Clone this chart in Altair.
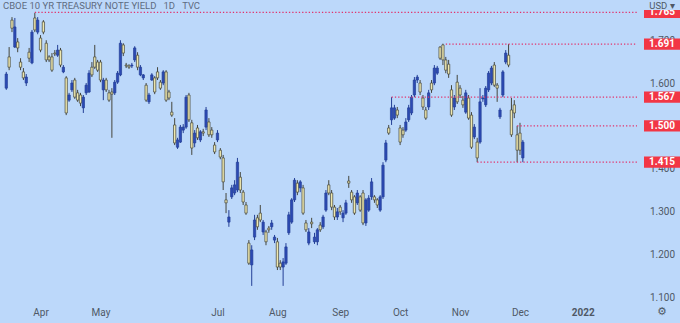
import altair as alt
import pandas as pd

# ---- data (CBOE 10Y yield, daily) ----
open_ = [1.588,1.661,1.747,1.684,1.696,1.649,1.626,1.600,1.672,1.647,1.752,1.719,1.705,1.743,1.693,1.661,1.661,1.670,1.665,1.677,
         1.626,1.612,1.560,1.584,1.607,1.577,1.572,1.542,1.577,1.579,1.637,1.661,1.649,1.649,1.584,1.607,1.577,1.579,1.577,1.602,
         1.619,1.689,1.642,1.640,1.640,1.654,1.665,1.619,1.612,1.595,1.556,1.607,1.612,1.626,1.602,1.600,1.626,1.579,1.532,1.502,
         1.450,1.462,1.490,1.497,1.572,1.507,1.460,1.495,1.467,1.486,1.497,1.509,1.490,1.455,1.467,1.443,1.425,1.327,1.275,1.334,
         1.343,1.350,1.380,1.345,1.315,1.226,1.175,1.240,1.285,1.296,1.252,1.252,1.261,1.264,1.233,1.229,1.179,1.170,1.179,1.250,
         1.275,1.327,1.366,1.355,1.355,1.273,1.226,1.275,1.229,1.229,1.268,1.264,1.303,1.362,1.343,1.310,1.287,1.310,1.285,1.296,
         1.371,1.345,1.334,1.320,1.334,1.343,1.273,1.303,1.334,1.334,1.327,1.303,1.334,1.420,1.495,1.514,1.518,1.537,1.495,1.490,
         1.490,1.514,1.530,1.572,1.607,1.600,1.565,1.537,1.544,1.600,1.600,1.623,1.684,1.689,1.654,1.644,1.584,1.544,1.602,1.588,
         1.560,1.532,1.565,1.525,1.474,1.462,1.462,1.563,1.549,1.584,1.600,1.642,1.595,1.521,1.572,1.649,1.665,1.537,1.549,1.479,
         1.483,1.425]
high = [1.626,1.684,1.754,1.752,1.705,1.658,1.635,1.621,1.682,1.724,1.764,1.754,1.712,1.747,1.700,1.665,1.670,1.677,1.689,1.682,
        1.642,1.616,1.577,1.607,1.612,1.584,1.577,1.572,1.600,1.630,1.649,1.689,1.654,1.654,1.612,1.612,1.584,1.588,1.607,1.628,
        1.700,1.693,1.647,1.644,1.647,1.686,1.672,1.642,1.621,1.600,1.577,1.623,1.616,1.637,1.607,1.630,1.630,1.584,1.556,1.518,
        1.472,1.502,1.504,1.572,1.577,1.514,1.490,1.502,1.490,1.493,1.544,1.518,1.497,1.462,1.490,1.448,1.432,1.343,1.303,1.362,
        1.373,1.425,1.392,1.350,1.322,1.233,1.221,1.292,1.292,1.315,1.280,1.257,1.266,1.280,1.245,1.238,1.186,1.191,1.226,1.299,
        1.331,1.378,1.373,1.373,1.362,1.280,1.261,1.285,1.250,1.261,1.275,1.292,1.350,1.373,1.350,1.315,1.308,1.315,1.303,1.327,
        1.383,1.350,1.338,1.350,1.338,1.350,1.331,1.338,1.378,1.338,1.331,1.338,1.415,1.467,1.502,1.567,1.549,1.544,1.502,1.497,
        1.518,1.549,1.572,1.614,1.619,1.607,1.572,1.544,1.584,1.607,1.642,1.640,1.686,1.692,1.661,1.654,1.595,1.572,1.619,1.595,
        1.570,1.584,1.572,1.532,1.504,1.472,1.588,1.572,1.593,1.628,1.640,1.649,1.600,1.542,1.630,1.677,1.691,1.565,1.560,1.500,
        1.507,1.467]
low = [1.584,1.630,1.719,1.682,1.672,1.630,1.607,1.593,1.649,1.644,1.719,1.714,1.672,1.714,1.649,1.649,1.626,1.663,1.661,1.637,
       1.623,1.525,1.556,1.579,1.563,1.556,1.546,1.530,1.572,1.577,1.614,1.633,1.626,1.602,1.560,1.579,1.556,1.472,1.572,1.598,
       1.616,1.663,1.635,1.633,1.635,1.649,1.630,1.616,1.607,1.556,1.551,1.605,1.574,1.607,1.584,1.595,1.556,1.560,1.521,1.455,
       1.446,1.460,1.483,1.493,1.509,1.432,1.450,1.467,1.462,1.476,1.490,1.474,1.472,1.434,1.462,1.422,1.350,1.296,1.264,1.329,
       1.338,1.345,1.343,1.315,1.292,1.175,1.126,1.233,1.257,1.275,1.245,1.221,1.250,1.257,1.226,1.163,1.163,1.126,1.175,1.245,
       1.271,1.322,1.338,1.345,1.292,1.252,1.221,1.261,1.224,1.221,1.252,1.259,1.299,1.338,1.303,1.280,1.280,1.292,1.275,1.292,
       1.355,1.320,1.292,1.315,1.299,1.268,1.266,1.299,1.327,1.320,1.308,1.299,1.329,1.415,1.479,1.502,1.514,1.518,1.455,1.472,
       1.486,1.509,1.525,1.567,1.600,1.572,1.537,1.514,1.537,1.577,1.595,1.619,1.654,1.642,1.623,1.612,1.521,1.537,1.551,1.565,
       1.542,1.528,1.514,1.446,1.469,1.415,1.458,1.556,1.544,1.579,1.595,1.591,1.556,1.516,1.567,1.644,1.637,1.474,1.518,1.415,
       1.432,1.415]
close = [1.621,1.637,1.728,1.731,1.682,1.637,1.612,1.614,1.658,1.719,1.724,1.747,1.677,1.719,1.654,1.654,1.630,1.668,1.677,1.642,
         1.637,1.530,1.572,1.600,1.567,1.560,1.553,1.567,1.595,1.623,1.619,1.637,1.630,1.607,1.607,1.584,1.560,1.574,1.602,1.623,
         1.693,1.670,1.640,1.637,1.642,1.682,1.637,1.637,1.619,1.560,1.572,1.619,1.579,1.612,1.588,1.626,1.560,1.565,1.525,1.460,
         1.467,1.497,1.497,1.567,1.514,1.448,1.483,1.472,1.486,1.483,1.537,1.479,1.479,1.439,1.483,1.427,1.369,1.320,1.287,1.355,
         1.362,1.415,1.350,1.322,1.296,1.179,1.210,1.280,1.264,1.280,1.275,1.229,1.257,1.273,1.240,1.170,1.170,1.182,1.217,1.292,
         1.327,1.373,1.345,1.369,1.296,1.257,1.252,1.271,1.240,1.257,1.257,1.287,1.343,1.343,1.310,1.287,1.299,1.299,1.296,1.320,
         1.366,1.327,1.296,1.343,1.303,1.273,1.327,1.331,1.369,1.327,1.315,1.334,1.408,1.460,1.483,1.542,1.542,1.525,1.462,1.479,
         1.509,1.542,1.567,1.607,1.614,1.579,1.544,1.518,1.577,1.584,1.635,1.635,1.658,1.654,1.630,1.621,1.525,1.565,1.556,1.572,
         1.549,1.577,1.518,1.450,1.497,1.425,1.556,1.565,1.588,1.623,1.635,1.595,1.588,1.537,1.626,1.670,1.642,1.479,1.530,1.443,
         1.443,1.462]

month_idx = [12, 33, 74, 95, 117, 138, 159, 180, 202]
month_lbl = ["Apr", "May", "Jul", "Aug", "Sep", "Oct", "Nov", "Dec", "2022"]
y_ticks = [1.1, 1.2, 1.3, 1.4, 1.5, 1.6, 1.7]
level_vals = [1.765, 1.691, 1.567, 1.500, 1.415]
level_start = [10, 154, 135, 179, 165]
level_text = ["1.765", "1.691", "1.567", "1.500", "1.415"]
title_text = "CBOE 10 YR TREASURY NOTE YIELD\u00a0\u00a0\u00a01D\u00a0\u00a0\u00a0TVC"

X_MIN, X_MAX = -0.45, 221.0
Y_MIN, Y_MAX = 1.086, 1.794

BG = "#BCD8FA"
UP = "#2C4AB4"
DOWN = "#EFE8AE"
RED = "#F23645"
DOT = "#E2336C"
TXT = "#4F5866"
FONT = "Roboto"

df = pd.DataFrame({"i": list(range(len(open_))), "o": open_, "h": high, "l": low, "c": close})
df["dir"] = ["up" if c >= o else "down" for o, c in zip(df["o"], df["c"])]

xs = alt.Scale(domain=[X_MIN, X_MAX], nice=False, zero=False)
ys = alt.Scale(domain=[Y_MIN, Y_MAX], nice=False, zero=False)

label_expr = " : ".join(f"datum.value == {i} ? '{l}'" for i, l in zip(month_idx, month_lbl)) + " : ''"

x_axis = alt.Axis(values=month_idx, labelExpr=label_expr, ticks=False, domain=False, grid=False,
                  labelPadding=4, labelFontSize=10, labelColor=TXT, labelFont=FONT, labelFlush=False,
                  labelOverlap=False, title=None,
                  labelFontWeight={"condition": {"test": f"datum.value == {month_idx[-1]}", "value": "bold"},
                                   "value": "normal"})
y_axis = alt.Axis(values=y_ticks, format=".3f", orient="right", ticks=False, tickSize=0, domain=False,
                  grid=False, labelPadding=20, labelAlign="center", labelFontSize=10, labelColor=TXT,
                  labelFont=FONT, title=None)

dir_color = alt.Scale(domain=["up", "down"], range=[UP, DOWN])
dir_stroke = alt.Scale(domain=["up", "down"], range=["#243f96", "#45463c"])

base = alt.Chart(df)

wicks = base.mark_rule(strokeWidth=1).encode(
    x=alt.X("i:Q", scale=xs, axis=x_axis),
    y=alt.Y("l:Q", scale=ys, axis=y_axis),
    y2="h:Q",
    color=alt.Color("dir:N", scale=dir_stroke, legend=None),
)

bodies = base.mark_bar(size=2.3, strokeWidth=0.7).encode(
    x=alt.X("i:Q", scale=xs, axis=x_axis),
    y=alt.Y("o:Q", scale=ys, axis=y_axis),
    y2="c:Q",
    fill=alt.Fill("dir:N", scale=dir_color, legend=None),
    stroke=alt.Stroke("dir:N", scale=dir_stroke, legend=None),
)

lv = pd.DataFrame({"level": level_vals, "start": level_start, "end": [X_MAX] * len(level_vals),
                   "txt": level_text})

lines = alt.Chart(lv).mark_rule(color=DOT, strokeWidth=1.3, strokeDash=[1.3, 2.0]).encode(
    x=alt.X("start:Q", scale=xs, axis=x_axis),
    x2="end:Q",
    y=alt.Y("level:Q", scale=ys, axis=y_axis),
)

box_shape = "M-1,-0.31L1,-0.31L1,0.31L-1,0.31Z"
boxes = alt.Chart(lv).mark_point(shape=box_shape, filled=True, size=36 * 36, color=RED, opacity=1).encode(
    x=alt.value(662),
    y=alt.Y("level:Q", scale=ys, axis=y_axis),
)
box_txt = alt.Chart(lv).mark_text(color="white", fontSize=10, fontWeight="bold", font=FONT,
                                  align="center", baseline="middle").encode(
    x=alt.value(662),
    y=alt.Y("level:Q", scale=ys, axis=y_axis),
    text="txt:N",
)

one = pd.DataFrame({"t": [title_text], "u": ["USD \u25be"], "g": ["\u2699"]})
title = alt.Chart(one).mark_text(align="left", baseline="middle", fontSize=9.5, color="#5E6B80",
                                 font=FONT).encode(x=alt.value(3), y=alt.value(6), text="t:N")
usd_cover = alt.Chart(one).mark_point(shape="M-1,-1L1,-1L1,1L-1,1Z", filled=True, size=38 * 38,
                                      color=BG, opacity=1).encode(x=alt.value(662), y=alt.value(-9))
usd = alt.Chart(one).mark_text(align="center", baseline="middle", fontSize=9.5, color=TXT,
                               font=FONT).encode(x=alt.value(662), y=alt.value(5.5), text="u:N")
gear = alt.Chart(one).mark_text(align="center", baseline="middle", fontSize=11, color=TXT,
                                font="DejaVu Sans").encode(x=alt.value(662), y=alt.value(312), text="g:N")

chart = alt.layer(wicks, bodies, lines, boxes, box_txt, usd_cover, usd, title, gear).properties(
    width=642, height=303,
    autosize=alt.AutoSizeParams(type="none"),
    padding={"left": 0, "top": 0, "right": 38, "bottom": 20},
    background=BG,
).configure_view(stroke=None, fill=BG)

chart.save("out.html", embed_options={"renderer": "svg", "actions": False})
